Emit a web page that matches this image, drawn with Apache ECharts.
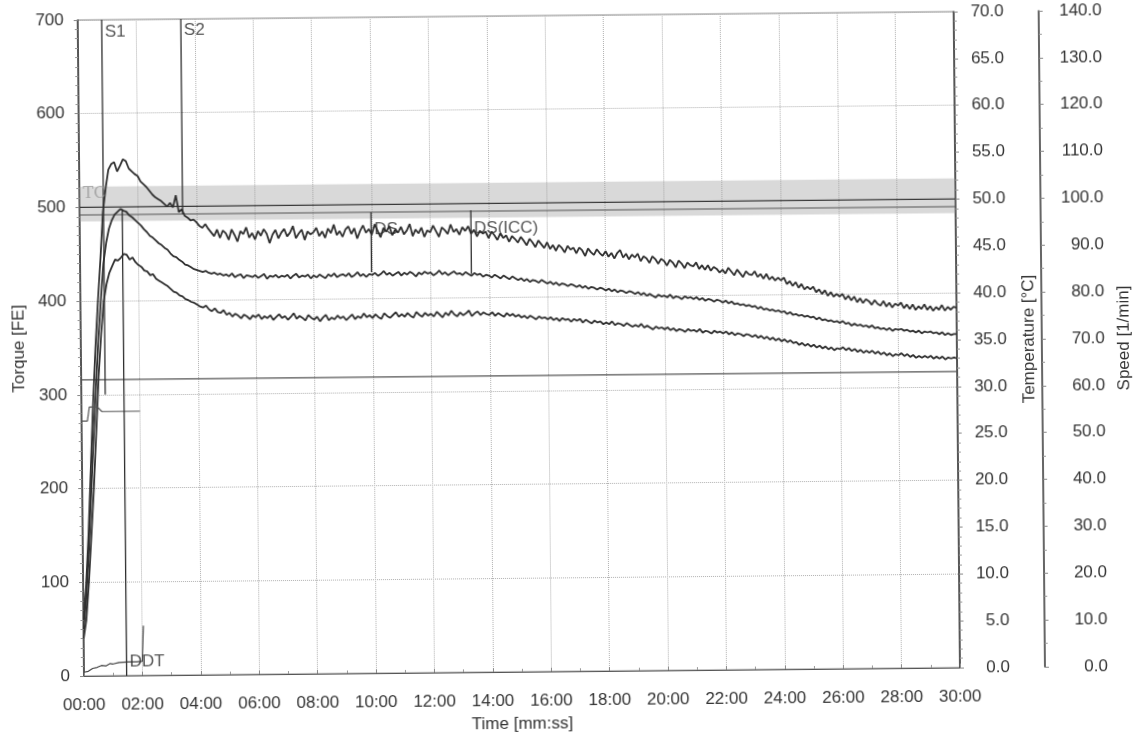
<!DOCTYPE html>
<html>
<head>
<meta charset="utf-8">
<script src="https://cdn.jsdelivr.net/npm/echarts@6/dist/echarts.min.js"></script>
<style>
  html, body { margin: 0; padding: 0; background: #fff; }
  /* the scanned plot sits slightly rotated on the page */
  #chart { width: 1145px; height: 745px; transform-origin: 84px 676px; transform: rotate(-0.55deg); background: #fff; }
</style>
</head>
<body>
<div id="chart"></div>
<script>
// sampling grid: one reading every 0.1 min (6 s) from 00:00 to 30:00
var timeStep = 0.1;
var times = [];
for (var i = 0; i <= 300; i++) times.push(+(i * timeStep).toFixed(1));

// torque curves [FE], one row per minute
var torqueTop = [
  60, 95, 150, 220, 290, 350, 400, 445, 495, 520,
  540, 546, 548, 538, 544, 551, 549, 541, 538, 535,
  533, 527, 524, 521, 517, 513, 510, 508, 506, 503,
  500, 504, 499, 512, 494, 497, 490, 488, 485, 486,
  483, 479, 477, 481, 476, 472, 468, 475, 466, 474,
  471, 464, 475, 469, 462, 473, 470, 477, 466, 471,
  464, 473, 468, 475, 470, 460, 469, 474, 465, 471,
  475, 467, 471, 478, 465, 470, 474, 463, 472, 469,
  471, 476, 467, 472, 465, 475, 470, 479, 468, 472,
  466, 474, 477, 469, 475, 464, 472, 478, 470, 474,
  468, 479, 472, 465, 475, 471, 477, 467, 473, 470,
  476, 468, 472, 479, 466, 473, 469, 475, 465, 472,
  470, 477, 471, 465, 475, 472, 468, 478, 470, 473,
  467, 475, 471, 476, 468, 472, 465, 471, 468, 470,
  463, 470, 466, 461, 468, 463, 466, 459, 465, 462,
  458, 464, 460, 455, 462, 458, 453, 460, 456, 452,
  458, 451, 455, 449, 455, 452, 447, 454, 450, 452,
  446, 452, 449, 443, 451, 447, 444, 450, 446, 443,
  448, 442, 446, 440, 446, 449, 441, 445, 439, 444,
  441, 445, 437, 442, 440, 435, 442, 439, 434, 439,
  437, 432, 438, 435, 430, 437, 434, 429, 435, 432,
  431, 435, 428, 432, 427, 432, 426, 430, 428, 424,
  427, 423, 429, 425, 421, 427, 423, 419, 425, 422,
  421, 425, 419, 422, 417, 422, 416, 419, 415, 418,
  415, 418, 411, 414, 409, 413, 407, 411, 405, 408,
  405, 408, 402, 405, 400, 404, 398, 402, 397, 400,
  397, 400, 394, 398, 393, 397, 391, 395, 390, 394,
  392, 388, 393, 389, 387, 392, 386, 390, 385, 389,
  387, 390, 384, 388, 383, 388, 382, 386, 383, 388,
  382, 386, 381, 385, 382, 387, 381, 385, 382, 385,
  384
];
var torqueMid = [
  50, 80, 130, 190, 250, 305, 360, 400, 440, 462,
  477, 486, 492, 495, 498, 496, 495, 491, 489, 486,
  483, 480, 476, 473, 469, 467, 464, 461, 459, 456,
  454, 450, 447, 446, 443, 441, 438, 437, 435, 433,
  432, 431, 430, 431, 429, 428, 429, 427, 428, 426,
  427, 425, 428, 424, 426, 427, 423, 426, 425, 424,
  426, 423, 425, 427, 422, 425, 424, 426, 423, 425,
  424, 426, 422, 425, 427, 423, 425, 424, 426, 422,
  425, 423, 426, 424, 422, 426, 424, 427, 423, 425,
  426, 424, 427, 423, 425, 428, 424, 426, 423, 426,
  425, 427, 424, 426, 429, 425, 427, 424, 426, 428,
  424, 427, 425, 428, 426, 423, 427, 425, 428, 426,
  427, 424, 426, 429, 425, 427, 424, 426, 428, 425,
  426, 424, 427, 425, 423, 426, 424, 425, 422, 424,
  423, 421, 424, 422, 420, 423, 421, 419, 422, 420,
  418, 420, 417, 419, 416, 418, 417, 415, 418, 416,
  414, 416, 413, 415, 412, 414, 413, 411, 413, 412,
  410, 412, 409, 411, 408, 410, 409, 407, 409, 408,
  406, 408, 405, 407, 404, 406, 405, 403, 405, 404,
  402, 404, 401, 403, 400, 402, 400, 398, 401, 399,
  400, 398, 401, 397, 399, 398, 396, 399, 397, 398,
  396, 398, 395, 397, 394, 396, 395, 393, 395, 394,
  392, 394, 391, 393, 390, 391, 389, 390, 388, 389,
  387, 388, 385, 387, 384, 385, 383, 384, 382, 383,
  381, 382, 379, 381, 378, 379, 377, 378, 376, 377,
  375, 376, 373, 375, 372, 373, 371, 372, 370, 371,
  369, 371, 368, 369, 366, 368, 366, 367, 365, 366,
  364, 366, 363, 364, 362, 363, 361, 363, 360, 362,
  361, 362, 360, 361, 359, 360, 358, 360, 357, 359,
  358, 359, 357, 358, 356, 358, 355, 357, 355, 356,
  356
];
var torqueLow = [
  40, 60, 100, 150, 200, 260, 320, 365, 400, 418,
  430, 437, 444, 443, 446, 450, 449, 444, 446, 441,
  438, 436, 432, 431, 427, 428, 423, 421, 419, 417,
  415, 412, 409, 408, 405, 404, 401, 400, 398, 397,
  395, 393, 392, 394, 390, 388, 391, 387, 386, 389,
  384, 386, 382, 385, 383, 380, 384, 382, 379, 383,
  381, 384, 379, 382, 380, 383, 378, 381, 384, 380,
  382, 378, 381, 385, 379, 382, 380, 377, 383, 380,
  378, 381, 376, 380, 383, 377, 380, 378, 382, 379,
  381, 377, 380, 383, 378, 381, 379, 384, 380, 382,
  379, 383, 380, 378, 384, 381, 379, 382, 385, 380,
  383, 380, 384, 381, 379, 385, 382, 380, 384, 381,
  383, 380, 385, 382, 379, 384, 381, 386, 382, 380,
  384, 381, 383, 386, 380, 383, 385, 381, 384, 382,
  381, 384, 380, 383, 381, 379, 383, 380, 382, 379,
  381, 378, 380, 377, 380, 378, 376, 379, 377, 378,
  376, 378, 375, 377, 374, 377, 375, 376, 373, 376,
  374, 376, 372, 375, 373, 371, 374, 372, 373, 370,
  372, 370, 373, 369, 371, 370, 368, 371, 369, 367,
  369, 367, 370, 366, 368, 366, 364, 367, 365, 366,
  364, 366, 363, 365, 362, 364, 363, 361, 364, 362,
  363, 361, 364, 360, 362, 361, 359, 362, 360, 361,
  359, 361, 358, 360, 357, 359, 358, 356, 358, 357,
  355, 357, 354, 356, 353, 355, 352, 354, 351, 353,
  350, 352, 349, 351, 348, 349, 346, 348, 345, 347,
  344, 346, 343, 345, 342, 344, 341, 343, 340, 342,
  341, 343, 340, 342, 339, 341, 338, 340, 337, 339,
  337, 339, 336, 338, 335, 337, 334, 336, 333, 335,
  334, 336, 333, 335, 332, 334, 331, 333, 331, 333,
  331, 333, 330, 332, 330, 332, 329, 331, 330, 331,
  330
];

// short traces during the first two minutes
var tempTimes = [0, 0.2, 0.27, 0.55, 0.7, 2.0];
var tempValues = [27.2, 27.2, 28.7, 28.7, 28.2, 28.2];          // °C
var startTimes = [0, 0.15, 0.3, 0.45, 0.6, 0.75, 0.9, 1.0, 1.2, 1.5, 1.8, 2.0, 2.02, 2.05];
var startValues = [4, 5, 8, 9, 11, 10.5, 13, 12.5, 14, 14.5, 14.5, 15, 30, 53]; // FE

// target consistency band and lines
var tcLine = 500;
var tcLower = 492;
var tcBand = [485, 522];
var tempLine = 31.6; // °C

// vertical markers
var markerNames = ['S1', 'S2', 'DS', 'DS(ICC)', 'DDT'];
var markerTimes = [0.82, 3.53, 9.98, 13.4, 1.46];
var markerTop = [700, 700, 492, 493, 498];
var markerBottom = [300, 492, 428, 425, 0];
var markerLabelAt = [687, 688, 473, 473, 15];

var font = 'Liberation Sans, Arial, sans-serif';
var curveColor = '#303030';

function pairs(xs, ys) { return xs.map(function (x, k) { return [x, ys[k]]; }); }
function mmss(v) { var m = Math.round(v); return (m < 10 ? '0' : '') + m + ':00'; }

var series = [];

series.push({
  type: 'line', yAxisIndex: 0, showSymbol: false, silent: true, z: 1,
  data: [[0, tcLine], [30, tcLine]],
  lineStyle: { color: '#3a3a3a', width: 1.3 },
  markArea: {
    silent: true,
    itemStyle: { color: 'rgba(150,150,150,0.36)' },
    data: [[{ yAxis: tcBand[0] }, { yAxis: tcBand[1] }]]
  }
});
series.push({
  type: 'line', yAxisIndex: 0, showSymbol: false, silent: true, z: 1,
  data: [[0, tcLower], [30, tcLower]],
  lineStyle: { color: '#555', width: 1.1 }
});
series.push({
  type: 'line', yAxisIndex: 1, showSymbol: false, silent: true, z: 1,
  data: [[0, tempLine], [30, tempLine]],
  lineStyle: { color: '#555', width: 1.3 }
});

[torqueTop, torqueMid, torqueLow].forEach(function (vals) {
  series.push({
    type: 'line', yAxisIndex: 0, showSymbol: false, z: 3,
    data: pairs(times, vals),
    lineStyle: { color: curveColor, width: 1.8 }
  });
});

series.push({
  type: 'line', yAxisIndex: 1, showSymbol: false, z: 3,
  data: pairs(tempTimes, tempValues),
  lineStyle: { color: '#555', width: 1.2 }
});
series.push({
  type: 'line', yAxisIndex: 0, showSymbol: false, z: 3,
  data: pairs(startTimes, startValues),
  lineStyle: { color: '#444', width: 1.2 }
});

markerNames.forEach(function (n, k) {
  series.push({
    type: 'line', yAxisIndex: 0, showSymbol: false, z: 4,
    data: [[markerTimes[k], markerTop[k]], [markerTimes[k], markerBottom[k]]],
    lineStyle: { color: '#2e2e2e', width: 1.3 }
  });
});

series.push({
  type: 'scatter', yAxisIndex: 0, symbolSize: 0, z: 5,
  data: markerNames.map(function (n, k) { return [markerTimes[k], markerLabelAt[k], n]; }),
  label: {
    show: true, position: 'right', distance: 3,
    formatter: function (p) { return p.value[2]; },
    color: '#2a2a2a', fontSize: 17, fontFamily: font
  }
});
series.push({
  type: 'scatter', yAxisIndex: 0, symbolSize: 0, z: 5,
  data: [[0.05, 514, 'TC']],
  label: {
    show: true, position: 'right', distance: 2,
    formatter: function (p) { return p.value[2]; },
    color: '#9a9a9a', fontSize: 16, fontFamily: 'DejaVu Serif, serif'
  }
});

var chart = echarts.init(document.getElementById('chart'), null, { renderer: 'canvas' });
chart.setOption({
  animation: false,
  backgroundColor: '#fff',
  grid: { left: 84, right: 185, top: 20, bottom: 69, show: true, borderColor: '#8a8a8a', borderWidth: 1 },
  xAxis: {
    type: 'value', min: 0, max: 30, interval: 2,
    name: 'Time [mm:ss]', nameLocation: 'middle', nameGap: 44,
    nameTextStyle: { color: '#333', fontSize: 17, fontFamily: font },
    axisLine: { show: true, lineStyle: { color: '#555', width: 1.2 } },
    axisTick: { show: true, inside: true, length: 4, lineStyle: { color: '#888' } },
    minorTick: { show: true, splitNumber: 2, length: 3, lineStyle: { color: '#999' } },
    axisLabel: { color: '#333', fontSize: 17, fontFamily: font, margin: 21, formatter: mmss },
    splitLine: { show: true, lineStyle: { color: '#b0b0b0', type: 'dotted', width: 1 } }
  },
  yAxis: [
    {
      type: 'value', min: 0, max: 700, interval: 100, position: 'left',
      name: 'Torque [FE]', nameLocation: 'middle', nameGap: 52, nameRotate: 90,
      nameTextStyle: { color: '#333', fontSize: 17, fontFamily: font },
      axisLine: { show: true, lineStyle: { color: '#333', width: 1.5 } },
      axisTick: { show: true, length: 4, lineStyle: { color: '#888' } },
      minorTick: { show: true, splitNumber: 10, length: 3, lineStyle: { color: '#999' } },
      axisLabel: { color: '#333', fontSize: 17, fontFamily: font, margin: 14 },
      splitLine: { show: true, lineStyle: { color: '#b0b0b0', type: 'dotted', width: 1 } }
    },
    {
      type: 'value', min: 0, max: 70, interval: 5, position: 'right',
      name: 'Temperature [°C]', nameLocation: 'middle', nameGap: 64, nameRotate: 90,
      nameTextStyle: { color: '#333', fontSize: 17, fontFamily: font },
      axisLine: { show: true, lineStyle: { color: '#333', width: 1.5 } },
      axisTick: { show: true, length: 4, lineStyle: { color: '#888' } },
      minorTick: { show: true, splitNumber: 5, length: 3, lineStyle: { color: '#999' } },
      axisLabel: { color: '#333', fontSize: 17, fontFamily: font, margin: 50, align: 'right',
        formatter: function (v) { return v.toFixed(1); } },
      splitLine: { show: false }
    },
    {
      type: 'value', min: 0, max: 140, interval: 10, position: 'right', offset: 85,
      name: 'Speed [1/min]', nameLocation: 'middle', nameGap: 73, nameRotate: 90,
      nameTextStyle: { color: '#333', fontSize: 17, fontFamily: font },
      axisLine: { show: true, lineStyle: { color: '#333', width: 1.5 } },
      axisTick: { show: true, length: 4, lineStyle: { color: '#888' } },
      minorTick: { show: true, splitNumber: 2, length: 3, lineStyle: { color: '#999' } },
      axisLabel: { color: '#333', fontSize: 17, fontFamily: font, margin: 63, align: 'right',
        formatter: function (v) { return v.toFixed(1); } },
      splitLine: { show: false }
    }
  ],
  series: series
});
</script>
</body>
</html>
